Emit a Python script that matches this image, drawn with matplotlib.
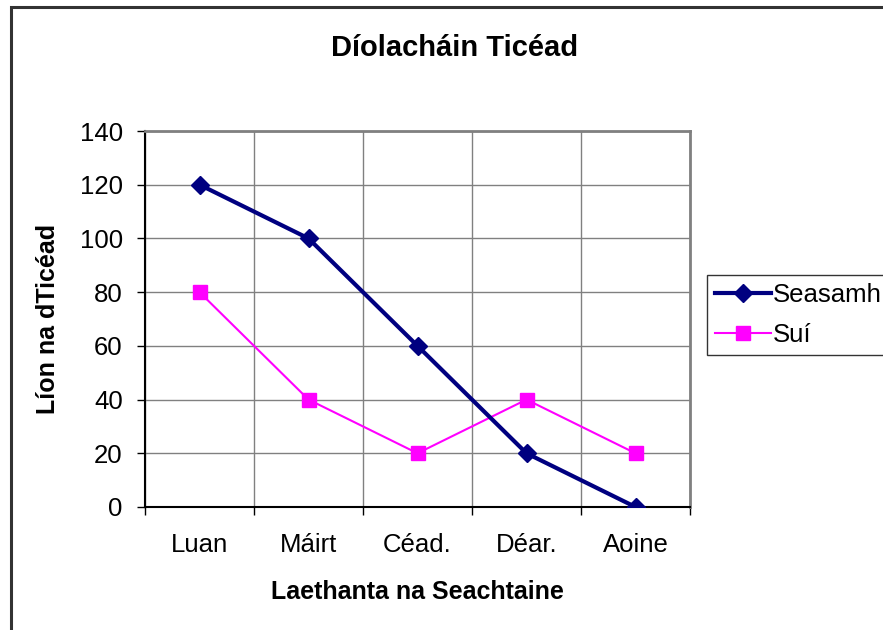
import matplotlib
matplotlib.use("Agg")
import matplotlib.pyplot as plt
from matplotlib.patches import Rectangle

categories = ["Luan", "Máirt", "Céad.", "Déar.", "Aoine"]
seasamh = [120, 100, 60, 20, 0]
sui = [80, 40, 20, 40, 20]
yticks = [0, 20, 40, 60, 80, 100, 120, 140]

plt.rcParams['font.family'] = ['Liberation Sans', 'DejaVu Sans']

fig = plt.figure(figsize=(8.83, 6.3), dpi=100)
fig.patch.set_facecolor('white')

# outer chart border (top and left visible, others cut off)
fig.add_artist(Rectangle((11/883, -0.1), 1.2, 1 - 7.5/630 + 0.1, transform=fig.transFigure,
                         fill=False, edgecolor='#333333', linewidth=2.2, clip_on=False))

ax = fig.add_axes([145/883, 1 - 507/630, (690-145)/883, (507-131)/630])
x = list(range(len(categories)))
ax.plot(x, seasamh, color='#000080', linewidth=3, marker='D', markersize=9,
        markerfacecolor='#000080', markeredgecolor='#000080', label='Seasamh', zorder=4)
ax.plot(x, sui, color='#FF00FF', linewidth=1.5, marker='s', markersize=9.5,
        markerfacecolor='#FF00FF', markeredgecolor='#FF00FF', label='Suí', zorder=3)

ax.set_xlim(-0.5, len(categories) - 0.5)
ax.set_ylim(0, 140)
ax.set_yticks(yticks)
ax.set_yticklabels([str(v) for v in yticks], fontsize=18.5)

bounds = [i - 0.5 for i in range(len(categories) + 1)]
ax.set_xticks(bounds)
ax.set_xticklabels([''] * len(bounds))
ax.set_xticks(x, minor=True)
ax.set_xticklabels(categories, minor=True, fontsize=18.5)
ax.tick_params(axis='x', which='minor', length=0, pad=19)
ax.tick_params(axis='x', which='major', length=6, direction='out', width=1)
ax.tick_params(axis='y', length=6, direction='out', width=1, pad=10)

ax.grid(True, which='major', color='#808080', linewidth=1)
ax.set_axisbelow(True)
for s in ['top', 'right']:
    ax.spines[s].set_color('#808080')
    ax.spines[s].set_linewidth(2)
for s in ['left', 'bottom']:
    ax.spines[s].set_color('#000000')
    ax.spines[s].set_linewidth(1.5)

ax.set_xlabel('Laethanta na Seachtaine', fontsize=18, fontweight='bold', labelpad=16)
ax.set_ylabel('Líon na dTicéad', fontsize=18, fontweight='bold', labelpad=14)

fig.text(455/883, 1 - 48/630, 'Díolacháin Ticéad', fontsize=21, fontweight='bold',
         ha='center', va='center')

leg = fig.legend(loc='upper left', bbox_to_anchor=(707/883, 1 - 275/630),
                 bbox_transform=fig.transFigure, fontsize=18.5, frameon=True,
                 fancybox=False, edgecolor='black', borderaxespad=0,
                 handlelength=2.2, handletextpad=0.08, borderpad=0.3, labelspacing=0.65)
leg.get_frame().set_linewidth(1)

fig.savefig('out.png', dpi=100, facecolor='white')
